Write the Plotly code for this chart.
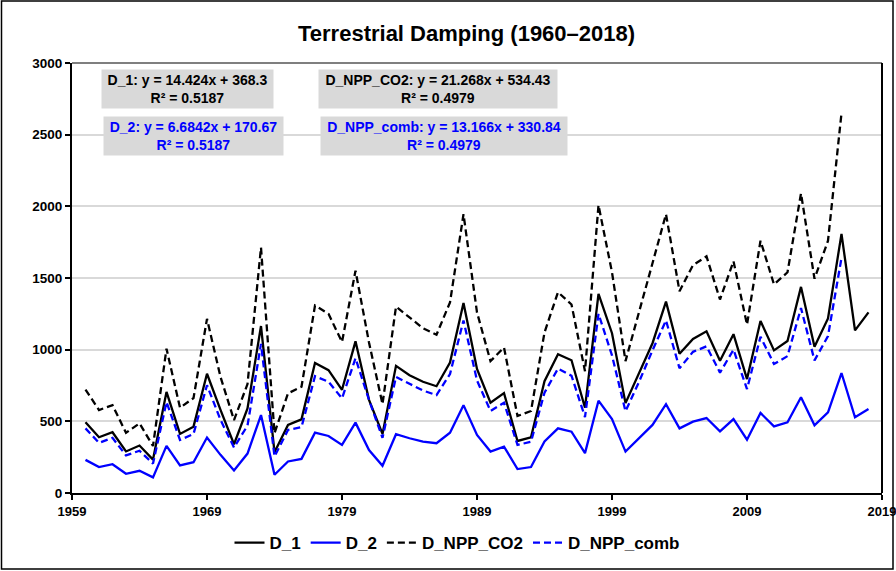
import plotly.graph_objects as go

years = list(range(1960, 2019))
years_npp = list(range(1960, 2017))

d_1 = [493, 389, 424, 290, 331, 233, 705, 412, 463, 832,
       580, 340, 590, 1165, 285, 475, 514, 907, 857, 720,
       1058, 650, 412, 887, 822, 776, 745, 910, 1325, 865,
       630, 697, 363, 389, 780, 968, 926, 595, 1389, 1115,
       627, 835, 1045, 1335, 972, 1075, 1128, 922, 1108, 795,
       1200, 995, 1060, 1438, 1020, 1218, 1808, 1135, 1260]

d_2 = [231, 181, 201, 134, 155, 109, 329, 192, 215, 387,
       266, 157, 275, 544, 127, 220, 238, 421, 398, 336,
       491, 300, 190, 410, 382, 359, 347, 421, 613, 405,
       289, 324, 167, 181, 359, 451, 428, 278, 644, 515,
       289, 382, 475, 620, 451, 498, 523, 430, 516, 372,
       558, 465, 493, 668, 472, 563, 837, 528, 586]

d_npp_co2 = [722, 579, 613, 420, 486, 328, 1007, 595, 662, 1215,
             810, 509, 760, 1713, 417, 695, 741, 1308, 1250, 1053,
             1551, 1050, 620, 1300, 1225, 1150, 1104, 1330, 1945, 1260,
             920, 1015, 537, 572, 1120, 1401, 1315, 850, 2008, 1540,
             920, 1265, 1610, 1945, 1408, 1590, 1651, 1350, 1617, 1175,
             1760, 1455, 1540, 2090, 1495, 1760, 2650]

d_npp_comb = [451, 350, 385, 262, 295, 205, 635, 370, 412, 752,
              510, 318, 470, 1040, 255, 440, 460, 815, 776, 660,
              940, 650, 385, 810, 762, 715, 683, 830, 1204, 785,
              572, 630, 335, 358, 700, 868, 818, 530, 1250, 960,
              570, 775, 995, 1204, 870, 985, 1023, 840, 1000, 725,
              1090, 900, 955, 1290, 925, 1095, 1640]

title_text = "Terrestrial Damping (1960–2018)"
eq_texts = [
    "D_1: y = 14.424x + 368.3<br>R² = 0.5187",
    "D_NPP_CO2: y = 21.268x + 534.43<br>R² = 0.4979",
    "D_2: y = 6.6842x + 170.67<br>R² = 0.5187",
    "D_NPP_comb: y = 13.166x + 330.84<br>R² = 0.4979",
]

FONT = "Liberation Sans, Arial, sans-serif"
BLUE = "#0000ff"

fig = go.Figure()
fig.add_trace(go.Scatter(x=years, y=d_1, name="D_1", mode="lines",
                         line=dict(color="black", width=2.3)))
fig.add_trace(go.Scatter(x=years, y=d_2, name="D_2", mode="lines",
                         line=dict(color=BLUE, width=2.3)))
fig.add_trace(go.Scatter(x=years_npp, y=d_npp_co2, name="D_NPP_CO2", mode="lines",
                         line=dict(color="black", width=2.3, dash="7px,4px")))
fig.add_trace(go.Scatter(x=years_npp, y=d_npp_comb, name="D_NPP_comb", mode="lines",
                         line=dict(color=BLUE, width=2.3, dash="7px,4px")))

L, R, T, B = 72, 14, 63, 78
W, H = 896, 571
pw = W - L - R
ph = H - T - B

def px(x):
    return (x - L) / pw

def py(y):
    return (H - B - y) / ph

boxes = [
    (eq_texts[0], 102, 273, 70, 108, "black"),
    (eq_texts[1], 319, 557, 70, 108, "black"),
    (eq_texts[2], 104, 283, 117, 155, BLUE),
    (eq_texts[3], 321, 567, 117, 155, BLUE),
]
annotations = []
for txt, x0, x1, y0, y1, col in boxes:
    annotations.append(dict(
        text="<b>" + txt + "</b>", xref="paper", yref="paper",
        x=px((x0 + x1) / 2), y=py((y0 + y1) / 2),
        xanchor="center", yanchor="middle", showarrow=False,
        width=x1 - x0, height=y1 - y0, bgcolor="#d9d9d9",
        borderpad=0, align="center",
        font=dict(family=FONT, size=14, color=col),
    ))

annotations.append(dict(
    text="<b>" + title_text + "</b>", xref="paper", yref="paper",
    x=px(466), y=py(33), xanchor="center", yanchor="middle", showarrow=False,
    font=dict(family=FONT, size=22, color="black"),
))

shapes = [
    dict(type="rect", xref="paper", yref="paper",
         x0=px(1.5), x1=px(893), y0=py(569), y1=py(1),
         line=dict(color="black", width=1.5), layer="below"),
    dict(type="line", xref="paper", yref="paper",
         x0=0, x1=1, y0=1, y1=1, line=dict(color="#7f7f7f", width=2)),
    dict(type="line", xref="paper", yref="paper",
         x0=1, x1=1, y0=0, y1=1, line=dict(color="black", width=2)),
]

fig.update_layout(
    width=W, height=H, autosize=False,
    margin=dict(l=L, r=R, t=T, b=B, pad=0, autoexpand=False),
    paper_bgcolor="white", plot_bgcolor="white",
    showlegend=True,
    legend=dict(orientation="h", x=px(457), y=py(543), xanchor="center", yanchor="middle",
                font=dict(family=FONT, size=17, color="black", weight="bold"),
                itemwidth=30, tracegroupgap=0, bgcolor="rgba(0,0,0,0)"),
    annotations=annotations,
    shapes=shapes,
    font=dict(family=FONT, color="black"),
)

fig.update_xaxes(range=[1959, 2019], tick0=1959, dtick=10, showgrid=False,
                 showline=True, linecolor="black", linewidth=2,
                 ticks="outside", ticklen=5, tickwidth=1.5, tickcolor="black",
                 ticklabeloverflow="allow", automargin=False,
                 tickfont=dict(family=FONT, size=13, color="black", weight="bold"),
                 zeroline=False)
fig.update_yaxes(range=[0, 3000], dtick=500, showgrid=True, gridcolor="#d9d9d9", gridwidth=1.5,
                 showline=True, linecolor="black", linewidth=2,
                 ticks="outside", ticklen=5, tickwidth=1.5, tickcolor="black",
                 automargin=False,
                 tickfont=dict(family=FONT, size=13.5, color="black", weight="bold"),
                 zeroline=False)

fig.write_html("out.html", config={"displayModeBar": False},
               post_script="document.body.style.margin='0px';")
